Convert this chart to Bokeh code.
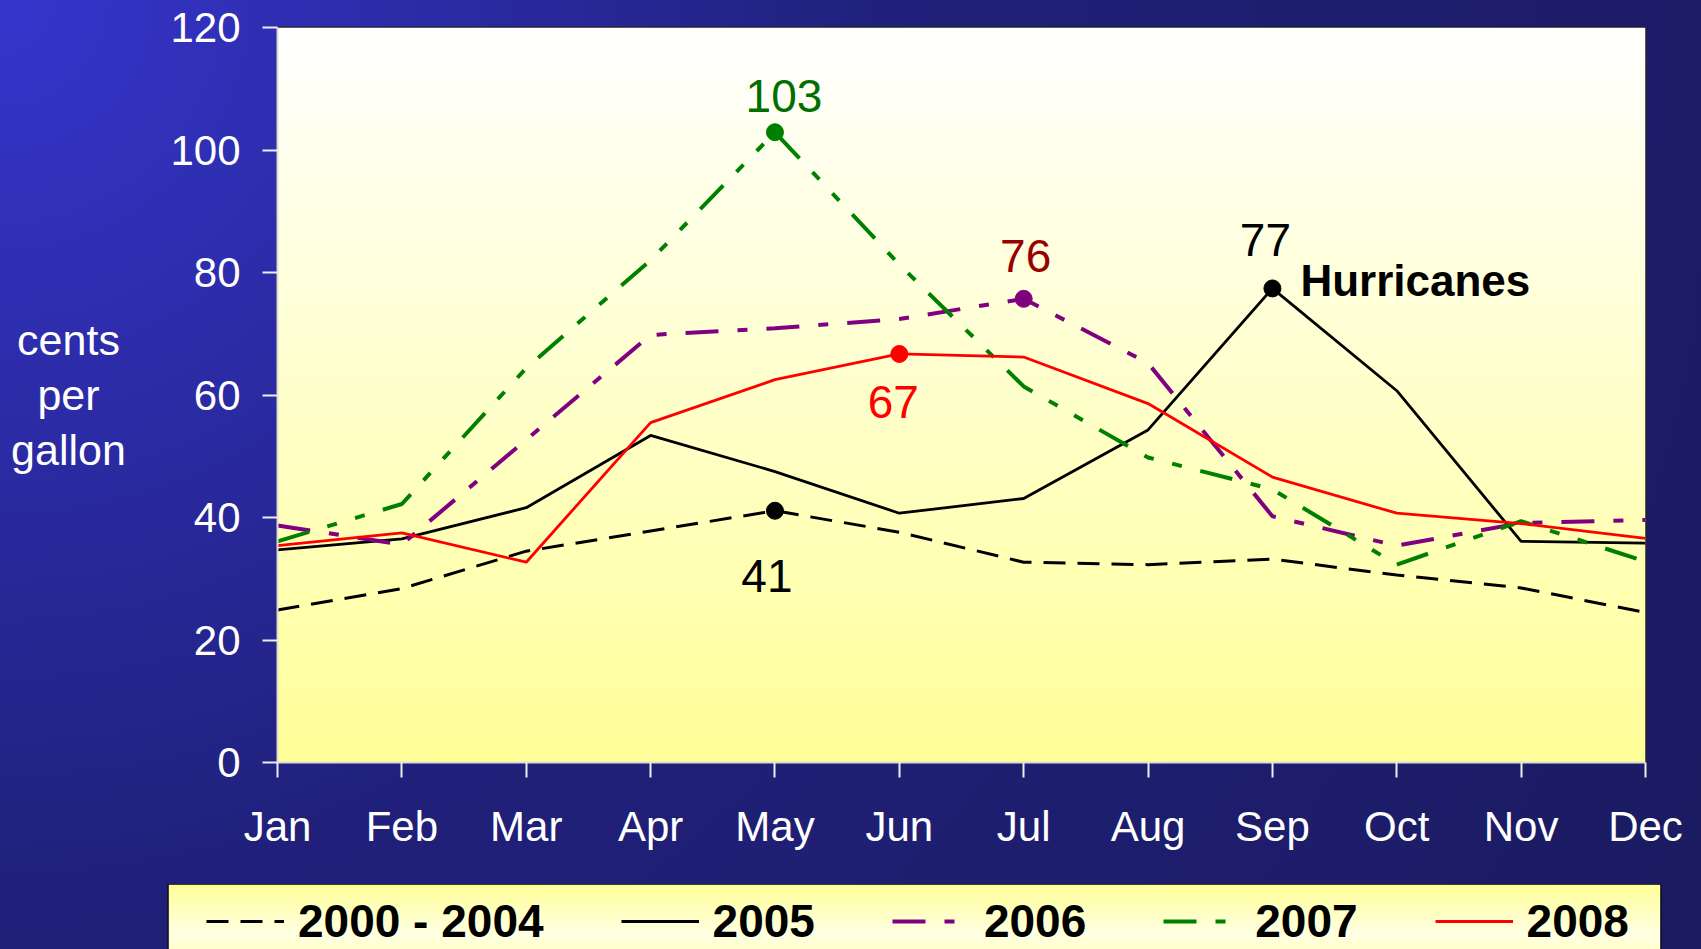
import numpy as np
from bokeh.plotting import figure
from bokeh.layouts import column, row
from bokeh.models import Range1d, FixedTicker, Legend, LegendItem
from bokeh.core.properties import value
from bokeh.embed import file_html
from bokeh.resources import INLINE

# ---------------- data ----------------
months = ["Jan", "Feb", "Mar", "Apr", "May", "Jun",
          "Jul", "Aug", "Sep", "Oct", "Nov", "Dec"]
y_ticks = [0, 20, 40, 60, 80, 100, 120]

series_labels = ["2000 - 2004", "2005", "2006", "2007", "2008"]
avg_2000_2004 = [24.9, 28.4, 34.5, 37.8, 41.1, 37.6, 32.7, 32.3, 33.2, 30.6, 28.5, 24.5]
y2005 = [34.7, 36.5, 41.6, 53.4, 47.5, 40.7, 43.1, 54.3, 77.4, 60.7, 36.1, 35.8]
y2006 = [38.7, 35.6, 52.7, 69.8, 70.9, 72.4, 75.7, 65.2, 40.2, 35.4, 39.1, 39.6]
y2007 = [36.1, 42.2, 64.4, 82.0, 102.9, 81.3, 61.4, 49.8, 44.6, 32.3, 39.4, 32.8]
y2008 = [35.4, 37.5, 32.7, 55.5, 62.5, 66.7, 66.2, 58.6, 46.6, 40.7, 39.0, 36.6]

# highlighted (labelled) points, one per series
highlight_months = ["May", "Sep", "Jul", "May", "Jun"]
hurricane_note = "Hurricanes"
axis_title_lines = ["cents", "per", "gallon"]

series_values = [avg_2000_2004, y2005, y2006, y2007, y2008]

# ---------------- styles ----------------
FONT = "Liberation Sans"
W, H = 1701, 949
LEFT_W = 140          # width of the strip holding the y-axis title
MAIN_H = 884          # height of the chart (legend box starts below)
LEG_H = H - MAIN_H

line_styles = [
    dict(color="black", width=3, dash="22 12"),
    dict(color="black", width=2.8, dash="solid"),
    dict(color="#800080", width=4, dash="33 19 10 19"),
    dict(color="#008000", width=4, dash="33 19 10 19 10 19"),
    dict(color="#FF0000", width=2.8, dash="solid"),
]
# label colour and offset (px) of the peak value text relative to its marker
label_styles = [
    dict(color="black", dx=-8, dy=65),
    dict(color="black", dx=-7, dy=-48),
    dict(color="#990000", dx=2, dy=-43),
    dict(color="#006F00", dx=9, dy=-36),
    dict(color="#FF0000", dx=-6, dy=48),
]
# vertical placement of the three title lines (in y-axis units) and their x (px)
title_line_y = [69.0, 60.0, 51.0]
title_x = 68


def vertical_gradient(b_values):
    n = len(b_values)
    img = np.empty((n, 1), dtype=np.uint32)
    v = img.view(dtype=np.uint8).reshape((n, 1, 4))
    v[:, 0, 0] = 255
    v[:, 0, 1] = 255
    v[:, 0, 2] = np.asarray(b_values).astype(np.uint8)
    v[:, 0, 3] = 255
    return img


x = list(range(len(months)))

# ---------------- main chart ----------------
p = figure(width=W - LEFT_W, height=MAIN_H,
           x_range=Range1d(0, len(months) - 1), y_range=Range1d(0, 120),
           output_backend="svg", toolbar_location=None,
           min_border_left=277 - LEFT_W, min_border_right=56,
           min_border_top=27, min_border_bottom=122)
p.border_fill_color = None
p.background_fill_color = "#FFFFDD"
p.outline_line_color = "#222222"
p.outline_line_width = 2
p.grid.visible = False

# plot-area gradient (pale yellow at bottom -> white at top)
t = np.linspace(0.0, 1.0, 240)
p.image_rgba(image=[vertical_gradient(153 + 102 * t)], x=0, y=0,
             dw=len(months) - 1, dh=120, level="image")

for ax in (p.xaxis, p.yaxis):
    ax.axis_line_color = "#DDDDDD"
    ax.axis_line_width = 2
    ax.major_tick_line_color = "#EEEEEE"
    ax.major_tick_line_width = 2
    ax.major_tick_in = 0
    ax.major_tick_out = 15
    ax.minor_tick_line_color = None
    ax.major_label_text_color = "white"
    ax.major_label_text_font = FONT
    ax.major_label_text_font_size = "42px"

p.xaxis.ticker = FixedTicker(ticks=x)
p.xaxis.major_label_overrides = {i: m for i, m in enumerate(months)}
p.xaxis.major_label_standoff = 25
p.yaxis.ticker = FixedTicker(ticks=y_ticks)
p.yaxis.major_label_standoff = 22

for vals, st in zip(series_values, line_styles):
    p.line(x, vals, line_color=st["color"], line_width=st["width"],
           line_dash=st["dash"])

for vals, st, ls, m in zip(series_values, line_styles, label_styles, highlight_months):
    i = months.index(m)
    p.scatter([i], [vals[i]], size=17, color=st["color"])
    p.text([i], [vals[i]], text=[str(int(round(vals[i])))],
           text_font=value(FONT), text_font_size=value("46px"),
           text_color=ls["color"], text_align="center", text_baseline="middle",
           x_offset=ls["dx"], y_offset=ls["dy"])

i05 = months.index(highlight_months[1])
p.text([i05], [y2005[i05]], text=[hurricane_note],
       text_font=value(FONT), text_font_size=value("44px"), text_font_style="bold",
       text_color="black", text_align="left", text_baseline="middle",
       x_offset=28, y_offset=-8)

# ---------------- y-axis title strip (frame aligned with the chart) ----------------
pl = figure(width=LEFT_W, height=MAIN_H, x_range=Range1d(0, LEFT_W),
            y_range=p.y_range, output_backend="svg",
            toolbar_location=None, x_axis_location=None, y_axis_location=None,
            min_border_left=0, min_border_right=0,
            min_border_top=27, min_border_bottom=122)
pl.border_fill_color = None
pl.background_fill_alpha = 0
pl.outline_line_color = None
pl.grid.visible = False
pl.text(x=[title_x] * 3, y=title_line_y, text=axis_title_lines,
        text_font=value(FONT), text_font_size=value("43px"), text_color="white",
        text_align="center", text_baseline="middle")

# ---------------- legend strip ----------------
pg = figure(width=W, height=LEG_H, x_range=Range1d(100, 101), y_range=Range1d(0, 1),
            output_backend="svg", toolbar_location=None,
            x_axis_location=None, y_axis_location=None,
            min_border_left=168, min_border_right=41,
            min_border_top=0, min_border_bottom=0)
pg.border_fill_color = None
pg.outline_line_color = "black"
pg.outline_line_width = 2
pg.grid.visible = False
yy = np.linspace(0.0, 1.0, 65)
pg.image_rgba(image=[vertical_gradient(228 - 75 * np.abs(yy - 0.23) / 0.77)],
              x=100, y=0, dw=1, dh=1, level="image")

# legend samples: the same series, styled alike, lying outside this strip's view
items = []
for name, vals, st in zip(series_labels, series_values, line_styles):
    r = pg.line(x, vals, line_color=st["color"], line_width=st["width"],
                line_dash=st["dash"])
    items.append(LegendItem(label=name, renderers=[r]))

legend = Legend(items=items, orientation="horizontal", location=(38, 1),
                margin=0, spacing=77, padding=0, glyph_width=78, glyph_height=24,
                label_height=52, label_standoff=14, label_text_font=FONT,
                label_text_font_style="bold", label_text_font_size="46px",
                label_text_color="black", label_text_baseline="middle",
                background_fill_alpha=0, border_line_color=None)
pg.add_layout(legend)

layout = column(row(pl, p, spacing=0), pg, spacing=0)

TEMPLATE = """{% block postamble %}<style>
html, body { margin: 0 !important; padding: 0 !important; overflow: hidden;
  background: radial-gradient(circle at 0 0, #3535CD 0px, #20207A 900px, #1B1B62 1900px); }
</style>{% endblock %}"""

open("out.html", "w").write(file_html(layout, INLINE, template=TEMPLATE))
